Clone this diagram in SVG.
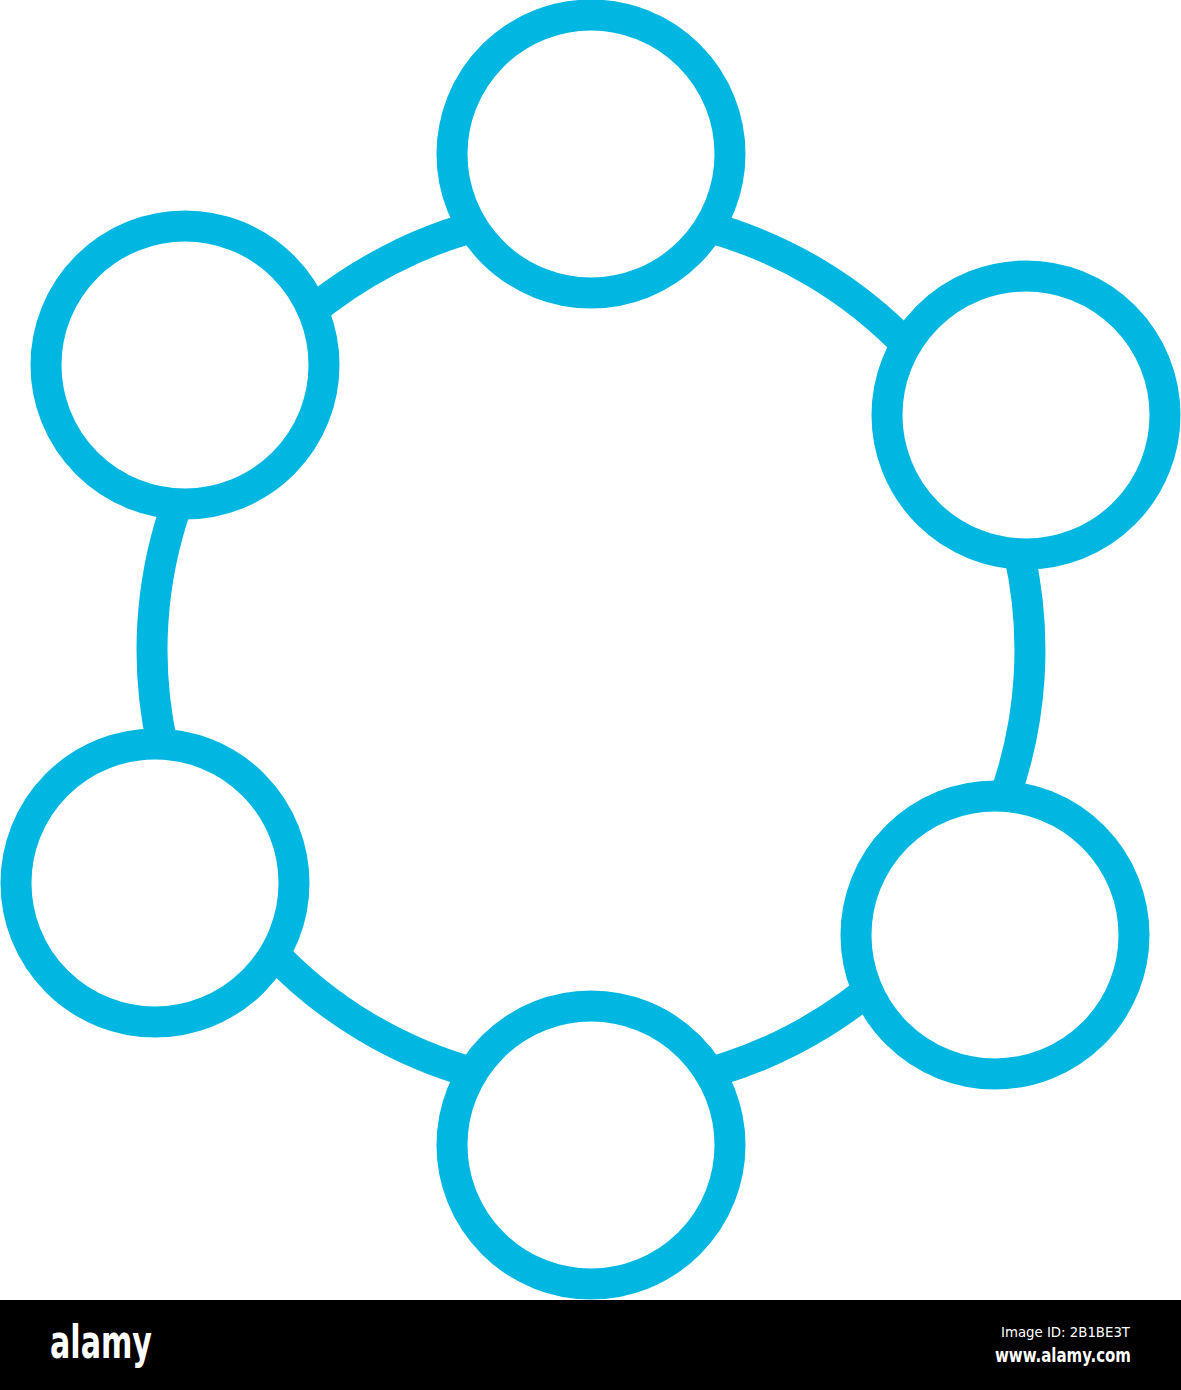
<svg xmlns="http://www.w3.org/2000/svg" width="1181" height="1390" viewBox="0 0 1181 1390">
<style>
.node{fill:#ffffff;stroke:#00B7E1;stroke-width:31}
.link{fill:none;stroke:#00B7E1;stroke-width:31}
.bar{fill:#000000}
.t{fill:#ffffff;font-family:"Liberation Sans Narrow","DejaVu Sans Condensed","Liberation Sans",sans-serif}
</style>
<rect x="0" y="0" width="1181" height="1390" fill="#ffffff"/>
<g id="connectors">
<path class="link" d="M591,211 A439,439 0 0 1 977.2,441.3"/>
<path class="link" d="M977.2,441.3 A439,439 0 0 1 949.7,903"/>
<path class="link" d="M949.7,903 A439,439 0 0 1 591,1089"/>
<path class="link" d="M591,1089 A439,439 0 0 1 203.8,856.8"/>
<path class="link" d="M203.8,856.8 A439,439 0 0 1 231.8,397.6"/>
<path class="link" d="M231.8,397.6 A439,439 0 0 1 591,211"/>
</g>
<g id="node-top"><circle class="node" cx="591" cy="154" r="139"/></g>
<g id="node-upper-right"><circle class="node" cx="1026" cy="415" r="139"/></g>
<g id="node-lower-right"><circle class="node" cx="995" cy="935" r="139"/></g>
<g id="node-bottom"><circle class="node" cx="591" cy="1145" r="139"/></g>
<g id="node-lower-left"><circle class="node" cx="155" cy="883" r="139"/></g>
<g id="node-upper-left"><circle class="node" cx="185" cy="365" r="139"/></g>
<g id="footer">
<rect class="bar" x="0" y="1300" width="1181" height="90"/>
<text class="t" x="50" y="1358" font-size="46" font-weight="bold" textLength="102" lengthAdjust="spacingAndGlyphs">alamy</text>
<text class="t" x="1001" y="1337" font-size="14" textLength="129" lengthAdjust="spacingAndGlyphs">Image ID: 2B1BE3T</text>
<text class="t" x="995" y="1362" font-size="20" font-weight="bold" textLength="136" lengthAdjust="spacingAndGlyphs">www.alamy.com</text>
</g>
</svg>
